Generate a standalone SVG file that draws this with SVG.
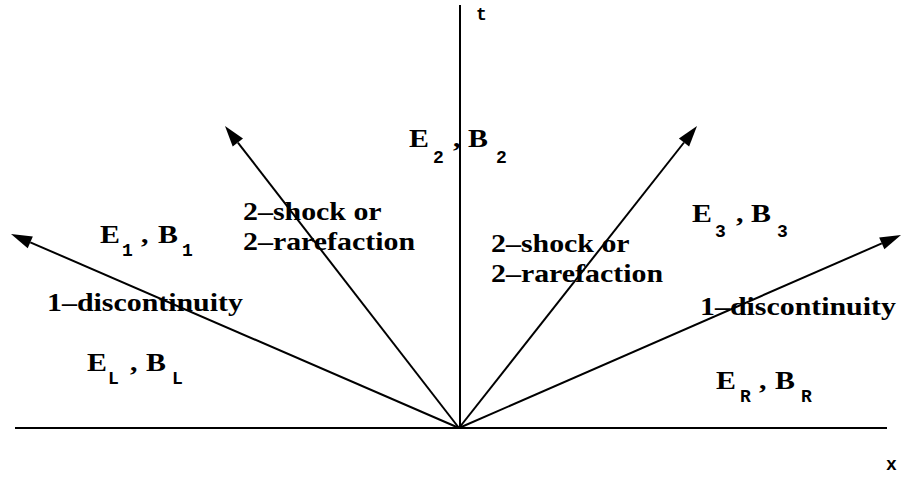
<svg xmlns="http://www.w3.org/2000/svg" width="906" height="479" viewBox="0 0 906 479">
<rect width="906" height="479" fill="#fff"/>
<g font-family="Liberation Mono" font-weight="bold" font-size="18" fill="#000">
<g id="axis-t"><text x="476" y="20">t</text></g>
<g id="axis-x"><text x="886" y="470">x</text></g>
</g>
<g font-family="Liberation Serif" font-weight="bold" font-size="26" fill="#000">
<g id="state-1">
<text transform="translate(100,243) scale(1.15,1)">E</text><text font-family="Liberation Mono" font-size="18" x="122" y="256">1</text>
<text transform="translate(141,243) scale(1.15,1)">,</text>
<text transform="translate(158,243) scale(1.15,1)">B</text><text font-family="Liberation Mono" font-size="18" x="182" y="256">1</text>
</g>
<g id="state-L">
<text transform="translate(87,371) scale(1.15,1)">E</text><text font-family="Liberation Mono" font-size="18" x="108" y="384">L</text>
<text transform="translate(130,371) scale(1.15,1)">,</text>
<text transform="translate(146,371) scale(1.15,1)">B</text><text font-family="Liberation Mono" font-size="18" x="172" y="384">L</text>
</g>
<g id="state-2">
<text transform="translate(409,147) scale(1.15,1)">E</text><text font-family="Liberation Mono" font-size="18" x="433" y="163">2</text>
<text transform="translate(453,147) scale(1.15,1)">,</text>
<text transform="translate(468,147) scale(1.15,1)">B</text><text font-family="Liberation Mono" font-size="18" x="496" y="163">2</text>
</g>
<g id="state-3">
<text transform="translate(692,222) scale(1.15,1)">E</text><text font-family="Liberation Mono" font-size="18" x="715" y="237">3</text>
<text transform="translate(736,222) scale(1.15,1)">,</text>
<text transform="translate(751,222) scale(1.15,1)">B</text><text font-family="Liberation Mono" font-size="18" x="777" y="237">3</text>
</g>
<g id="state-R">
<text transform="translate(716,389) scale(1.15,1)">E</text><text font-family="Liberation Mono" font-size="18" x="740" y="402">R</text>
<text transform="translate(759,389) scale(1.15,1)">,</text>
<text transform="translate(775,389) scale(1.15,1)">B</text><text font-family="Liberation Mono" font-size="18" x="801" y="402">R</text>
</g>
<g id="wave-1-left"><text transform="translate(47,311) scale(1.15,1)">1&#8211;discontinuity</text></g>
<g id="wave-2-left">
<text transform="translate(243,220) scale(1.15,1)">2&#8211;shock or</text>
<text transform="translate(243,250) scale(1.15,1)">2&#8211;rarefaction</text>
</g>
<g id="wave-2-right">
<text transform="translate(491,252) scale(1.15,1)">2&#8211;shock or</text>
<text transform="translate(491,282) scale(1.15,1)">2&#8211;rarefaction</text>
</g>
<g id="wave-1-right"><text transform="translate(700,315) scale(1.15,1)">1&#8211;discontinuity</text></g>
</g>
<g id="connectors" stroke="#000" stroke-width="2" fill="none">
<line x1="15" y1="428" x2="887" y2="428"/>
<line x1="460" y1="428" x2="460" y2="5"/>
<line x1="459" y1="428" x2="30.3" y2="242.3"/>
<line x1="459" y1="428" x2="237.9" y2="142.6"/>
<line x1="459" y1="428" x2="684" y2="142.5"/>
<line x1="459" y1="428" x2="881.8" y2="243.4"/>
<g fill="#000" stroke="none">
<polygon points="11,234 32.85,236.38 27.69,248.32"/>
<polygon points="225,126 243,138.62 232.72,146.58"/>
<polygon points="697,126 689.11,146.51 678.89,138.47"/>
<polygon points="901,235 884.36,249.36 879.16,237.44"/>
</g>
</g>
</svg>
